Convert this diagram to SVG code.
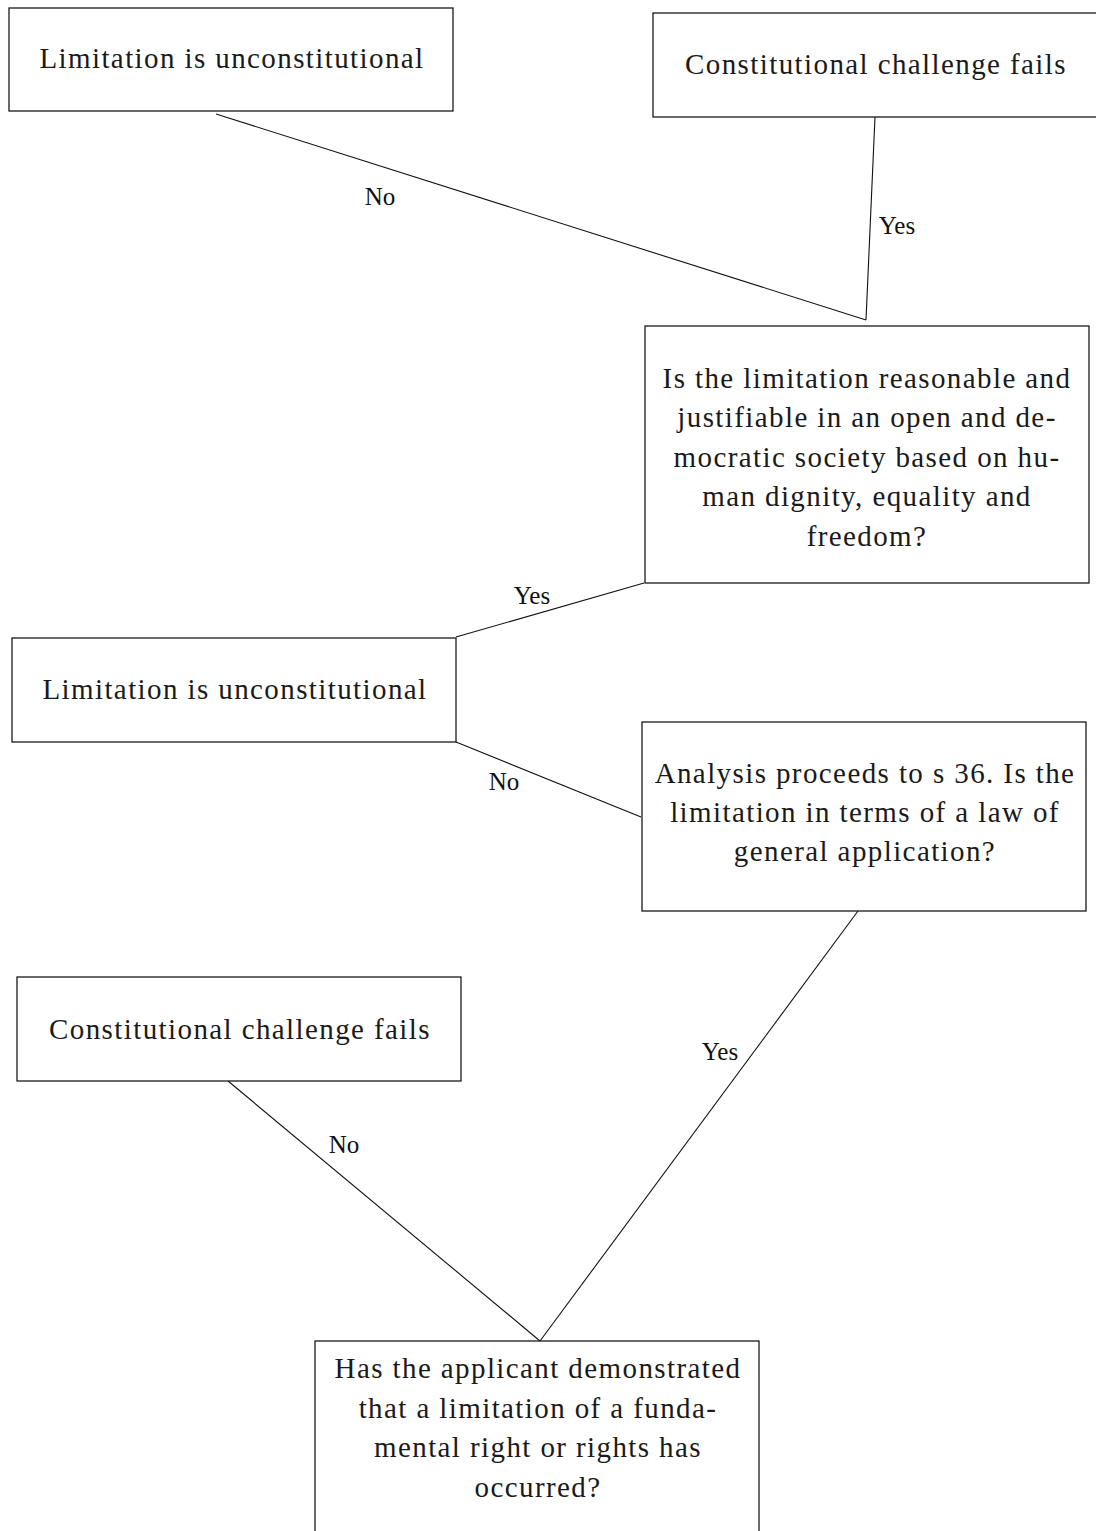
<svg xmlns="http://www.w3.org/2000/svg" width="1096" height="1531" viewBox="0 0 1096 1531">
  <style>
    .box { fill: #ffffff; stroke: #1a1a1a; stroke-width: 1.3; }
    .txt { font-family: "Liberation Serif", "DejaVu Serif", serif; font-size: 29px; fill: #1a1a1a; text-anchor: middle; letter-spacing: 1.4px; }
    .edge { fill: none; stroke: #111111; stroke-width: 1.1; }
    .lbl { font-family: "Liberation Serif", "DejaVu Serif", serif; font-size: 25px; fill: #111111; text-anchor: middle; }
  </style>
  <rect width="1096" height="1531" fill="#ffffff"/>

  <g id="connectors">
    <line class="edge" x1="216" y1="114" x2="866" y2="320"/>
    <line class="edge" x1="875" y1="117" x2="866" y2="320"/>
    <line class="edge" x1="456" y1="637" x2="644" y2="583"/>
    <line class="edge" x1="456" y1="742" x2="641" y2="817"/>
    <line class="edge" x1="228" y1="1081" x2="540" y2="1341"/>
    <line class="edge" x1="858" y1="911" x2="540" y2="1341"/>
    <text class="lbl" x="380" y="205">No</text>
    <text class="lbl" x="897" y="234">Yes</text>
    <text class="lbl" x="532" y="604">Yes</text>
    <text class="lbl" x="504" y="790">No</text>
    <text class="lbl" x="344" y="1153">No</text>
    <text class="lbl" x="720" y="1060">Yes</text>
  </g>

  <g id="n1">
    <rect class="box" x="9" y="8" width="444" height="103"/>
    <text class="txt" x="232" y="68">Limitation is unconstitutional</text>
  </g>

  <g id="n2">
    <rect class="box" x="653" y="13" width="450" height="104"/>
    <text class="txt" x="876" y="74">Constitutional challenge fails</text>
  </g>

  <g id="n3">
    <rect class="box" x="645" y="326" width="444" height="257"/>
    <text class="txt" x="867" y="388">Is the limitation reasonable and</text>
    <text class="txt" x="867" y="427">justifiable in an open and de-</text>
    <text class="txt" x="867" y="467">mocratic society based on hu-</text>
    <text class="txt" x="867" y="506">man dignity, equality and</text>
    <text class="txt" x="867" y="546">freedom?</text>
  </g>

  <g id="n4">
    <rect class="box" x="12" y="638" width="444" height="104"/>
    <text class="txt" x="235" y="699">Limitation is unconstitutional</text>
  </g>

  <g id="n5">
    <rect class="box" x="642" y="722" width="444" height="189"/>
    <text class="txt" x="865" y="783">Analysis proceeds to s 36. Is the</text>
    <text class="txt" x="865" y="822">limitation in terms of a law of</text>
    <text class="txt" x="865" y="861">general application?</text>
  </g>

  <g id="n6">
    <rect class="box" x="17" y="977" width="444" height="104"/>
    <text class="txt" x="240" y="1039">Constitutional challenge fails</text>
  </g>

  <g id="n7">
    <rect class="box" x="315" y="1341" width="444" height="200"/>
    <text class="txt" x="538" y="1378">Has the applicant demonstrated</text>
    <text class="txt" x="538" y="1418">that a limitation of a funda-</text>
    <text class="txt" x="538" y="1457">mental right or rights has</text>
    <text class="txt" x="538" y="1497">occurred?</text>
  </g>
</svg>
